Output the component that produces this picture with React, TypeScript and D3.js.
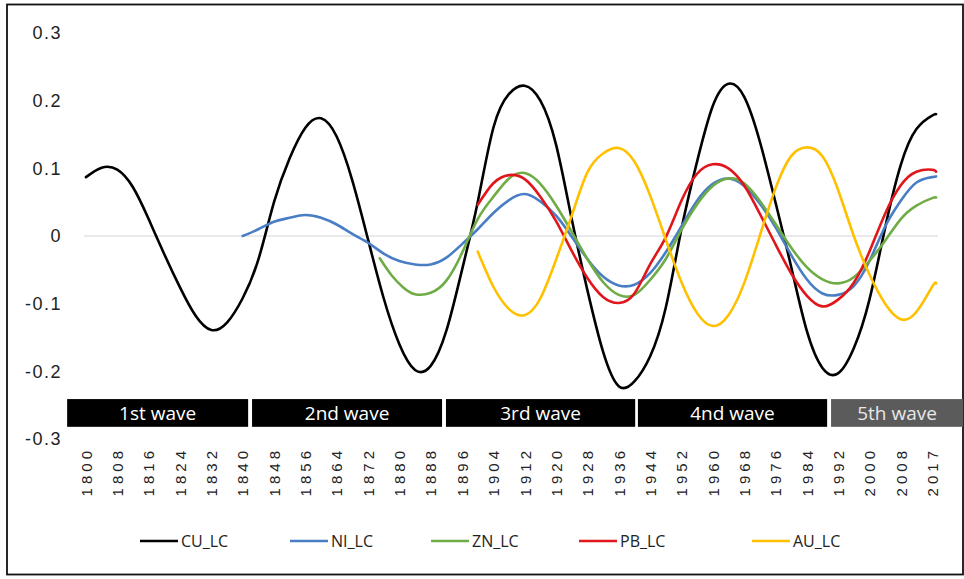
import React from "react";
import * as d3 from "d3";

// category index -> x (categories 0..217; labels every 8 categories)
const xTickLabels = ["1800","1808","1816","1824","1832","1840","1848","1856","1864","1872","1880","1888","1896","1904","1912","1920","1928","1936","1944","1952","1960","1968","1976","1984","1992","2000","2008","2017"];
const yTicks = [0.3, 0.2, 0.1, 0, -0.1, -0.2, -0.3];

const cuLC: [number, number][] = [
  [0,0.087],[4,0.101],[8,0.098],[12,0.072],[16,0.025],[20,-0.027],[24,-0.076],[28,-0.118],[32,-0.139],[36,-0.128],[40,-0.092],[44,-0.035],[48,0.050],[52,0.115],[56,0.160],[60,0.174],[64,0.147],[68,0.082],[72,-0.005],[76,-0.092],[80,-0.160],[84,-0.198],[88,-0.192],[92,-0.140],[96,-0.050],[100,0.050],[104,0.160],[108,0.210],[112,0.222],[116,0.200],[120,0.135],[124,0.025],[128,-0.080],[132,-0.171],[136,-0.222],[140,-0.215],[144,-0.178],[148,-0.106],[152,0.010],[156,0.110],[160,0.192],[164,0.225],[168,0.206],[172,0.140],[176,0.050],[180,-0.045],[184,-0.140],[188,-0.195],[192,-0.203],[196,-0.166],[200,-0.094],[204,0.012],[208,0.105],[212,0.158],[216,0.178],[217,0.180]
];
const niLC: [number, number][] = [
  [40,0.000],[44,0.010],[48,0.021],[52,0.027],[56,0.031],[60,0.027],[64,0.017],[68,0.003],[72,-0.010],[76,-0.026],[80,-0.037],[84,-0.042],[88,-0.042],[92,-0.032],[96,-0.012],[100,0.010],[104,0.034],[108,0.053],[112,0.062],[116,0.051],[120,0.030],[124,-0.001],[128,-0.034],[132,-0.060],[136,-0.073],[140,-0.072],[144,-0.055],[148,-0.024],[152,0.014],[156,0.052],[160,0.077],[164,0.085],[168,0.074],[172,0.048],[176,0.013],[180,-0.028],[184,-0.064],[188,-0.085],[192,-0.087],[196,-0.074],[200,-0.037],[204,0.014],[208,0.052],[212,0.079],[216,0.087],[217,0.088]
];
const znLC: [number, number][] = [
  [75,-0.033],[78,-0.058],[81,-0.076],[84,-0.086],[88,-0.084],[92,-0.066],[96,-0.025],[100,0.025],[104,0.058],[108,0.085],[112,0.093],[116,0.077],[120,0.045],[124,0.006],[128,-0.034],[132,-0.068],[136,-0.087],[140,-0.087],[144,-0.065],[148,-0.034],[152,0.009],[156,0.047],[160,0.074],[164,0.085],[168,0.078],[172,0.052],[176,0.018],[180,-0.017],[184,-0.046],[188,-0.064],[192,-0.070],[196,-0.061],[200,-0.037],[204,-0.007],[208,0.025],[212,0.045],[216,0.056],[217,0.057]
];
const pbLC: [number, number][] = [
  [100,0.046],[104,0.078],[108,0.090],[112,0.084],[116,0.058],[120,0.022],[124,-0.022],[128,-0.062],[132,-0.090],[136,-0.099],[140,-0.085],[144,-0.042],[148,-0.002],[152,0.052],[156,0.092],[160,0.106],[164,0.100],[168,0.075],[172,0.033],[176,-0.012],[180,-0.055],[184,-0.088],[188,-0.104],[192,-0.094],[196,-0.069],[200,-0.023],[204,0.033],[208,0.075],[212,0.095],[216,0.098],[217,0.095]
];
const auLC: [number, number][] = [
  [100,-0.023],[104,-0.075],[108,-0.108],[112,-0.117],[116,-0.092],[120,-0.035],[124,0.030],[128,0.094],[132,0.122],[136,0.130],[140,0.110],[144,0.060],[148,-0.005],[152,-0.068],[156,-0.114],[160,-0.133],[164,-0.117],[168,-0.070],[172,0.000],[176,0.070],[180,0.118],[184,0.131],[188,0.118],[192,0.068],[196,0.000],[200,-0.057],[204,-0.100],[208,-0.123],[212,-0.112],[216,-0.075],[217,-0.070]
];

const seriesNames = ["CU_LC", "NI_LC", "ZN_LC", "PB_LC", "AU_LC"];
const seriesData = [cuLC, niLC, znLC, pbLC, auLC];
const seriesColors = ["#000000", "#4a7ec4", "#6fac46", "#e0161c", "#ffc000"];

const waveLabels = ["1st wave", "2nd wave", "3rd wave", "4nd wave", "5th wave"];
const waveStarts = [-4.8, 42.4, 91.9, 140.9, 190.2];
const waveEnds = [41.4, 90.9, 140.2, 189.2, 225];
const waveFills = ["#000000", "#000000", "#000000", "#000000", "#5b5b5b"];
const waveTextColors = ["#ffffff", "#ffffff", "#ffffff", "#ffffff", "#e8e8e8"];
const waveBand = [-0.241, -0.282];

export default function App() {
  const W = 964, H = 579;
  const x = d3.scaleLinear().domain([-0.5, 217.5]).range([84, 938]);
  const y = d3.scaleLinear().domain([-0.3, 0.3]).range([439, 33]);
  const line = d3.line<[number, number]>()
    .x(d => x(d[0]))
    .y(d => y(d[1]))
    .curve(d3.curveNatural);

  const legendStarts = [140, 290, 431, 579, 752];
  const legendY = 541;

  return (
    <svg width={W} height={H} style={{ position: "fixed", left: 0, top: 0, background: "#fff" }}
      fontFamily="'Liberation Sans', Arial, sans-serif">
      <rect x={0} y={0} width={W} height={H} fill="#fff" />
      <rect x={7} y={4.5} width={956} height={570} fill="none" stroke="#111" strokeWidth={1.8} />
      {/* zero gridline */}
      <line x1={x(-0.5)} x2={x(217.5)} y1={y(0)} y2={y(0)} stroke="#d4d4d4" strokeWidth={1} />
      {/* y tick labels */}
      {yTicks.map(t => (
        <text key={t} x={62} y={y(t)} dy="0.36em" textAnchor="end" fontSize={18} letterSpacing={1.5} fill="#222">
          {t === 0 ? "0" : t.toFixed(1)}
        </text>
      ))}
      {/* series */}
      {seriesData.map((d, i) => (
        <path key={seriesNames[i]} d={line(d) || ""} fill="none" stroke={seriesColors[i]} strokeWidth={2.6}
          strokeLinejoin="round" strokeLinecap="round" />
      ))}
      {/* wave bands */}
      {waveLabels.map((w, i) => {
        const x0 = x(waveStarts[i]);
        const x1 = Math.min(x(waveEnds[i]), 963);
        const y0 = y(waveBand[0]);
        const y1 = y(waveBand[1]);
        return (
          <g key={w}>
            <rect x={x0} y={y0} width={x1 - x0} height={y1 - y0} fill={waveFills[i]} />
            <text x={(x0 + x1) / 2} y={(y0 + y1) / 2} dy="0.36em" textAnchor="middle" fontSize={19}
              fontFamily="'Open Sans', sans-serif" fill={waveTextColors[i]}>{w}</text>
          </g>
        );
      })}
      {/* x tick labels */}
      {xTickLabels.map((lab, k) => {
        const px = x(k * 8) + 5.8;
        const py = 447;
        return (
          <text key={lab} x={px} y={py} transform={`rotate(-90 ${px} ${py})`} textAnchor="end"
            fontSize={15} letterSpacing={4} fill="#222">{lab}</text>
        );
      })}
      {/* legend */}
      {seriesNames.map((n, i) => (
        <g key={n}>
          <line x1={legendStarts[i]} x2={legendStarts[i] + 38} y1={legendY} y2={legendY}
            stroke={seriesColors[i]} strokeWidth={2.6} />
          <text x={legendStarts[i] + 41} y={legendY} dy="0.36em" fontSize={16}
            fontFamily="'Open Sans', sans-serif" fill="#222">{n}</text>
        </g>
      ))}
    </svg>
  );
}
